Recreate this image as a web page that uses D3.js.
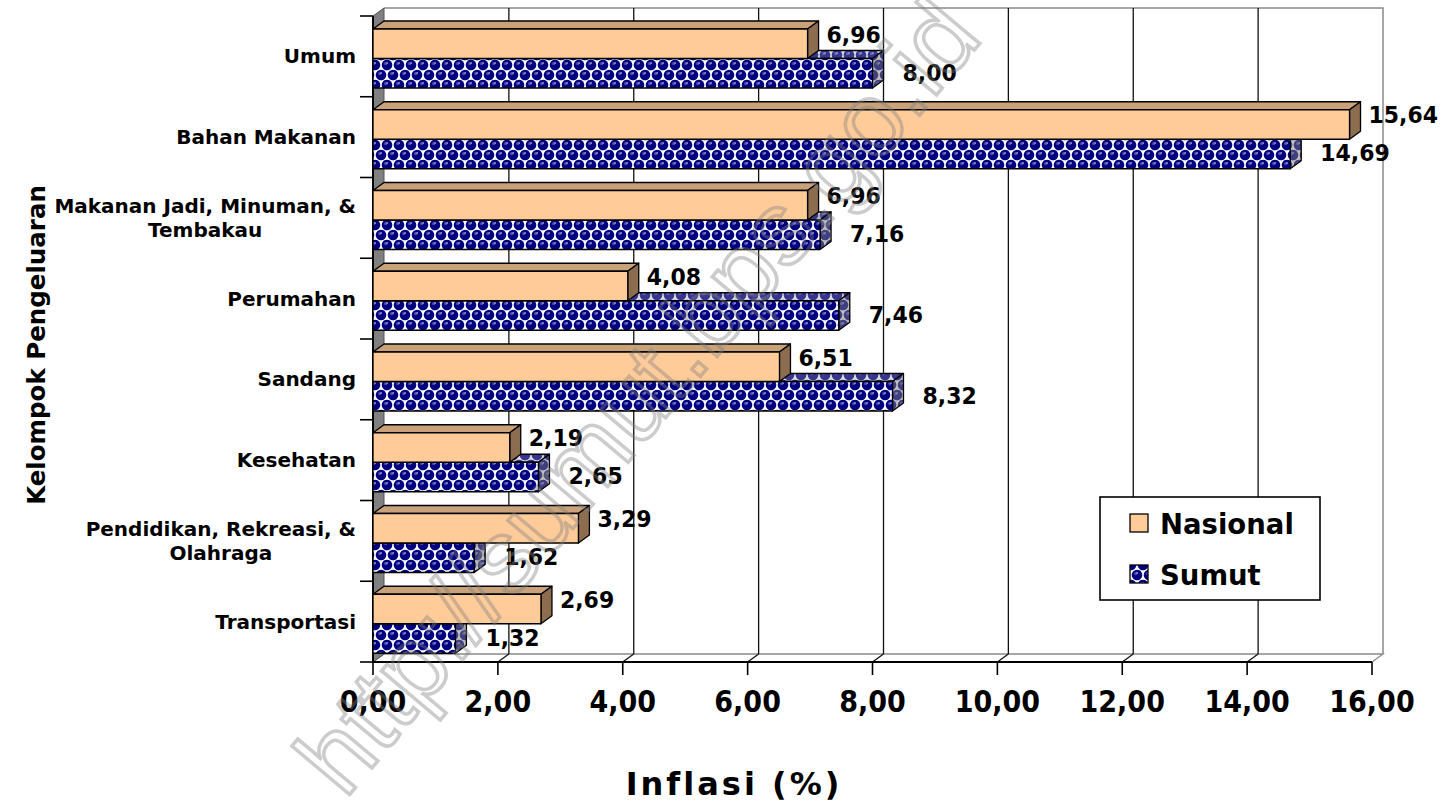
<!DOCTYPE html>
<html>
<head>
<meta charset="utf-8">
<script src="https://cdn.jsdelivr.net/npm/d3@7"></script>
<style>
  html, body { margin: 0; padding: 0; background: #fff; }
  svg { display: block; }
  text { font-family: "DejaVu Sans", Verdana, sans-serif; font-weight: bold; fill: #000; }
</style>
</head>
<body>
<svg id="chart" width="1444" height="808"></svg>
<script>
// ---- data ----
const categories = [
  "Umum",
  "Bahan Makanan",
  "Makanan Jadi, Minuman, & Tembakau",
  "Perumahan",
  "Sandang",
  "Kesehatan",
  "Pendidikan, Rekreasi, & Olahraga",
  "Transportasi"
];
const categoryLines = [
  ["Umum"],
  ["Bahan Makanan"],
  ["Makanan Jadi, Minuman, &", "Tembakau"],
  ["Perumahan"],
  ["Sandang"],
  ["Kesehatan"],
  ["Pendidikan, Rekreasi, &", "Olahraga"],
  ["Transportasi"]
];
const seriesNames = ["Nasional", "Sumut"];
const nasional = [6.96, 15.64, 6.96, 4.08, 6.51, 2.19, 3.29, 2.69];
const sumut    = [8.00, 14.69, 7.16, 7.46, 8.32, 2.65, 1.62, 1.32];
const xTicks   = [0, 2, 4, 6, 8, 10, 12, 14, 16];
const xTitle = "Inflasi (%)";
const yTitle = "Kelompok Pengeluaran";
const watermark = "http://sumut.bps.go.id";

// ---- layout ----
const svg = d3.select("#chart");
const locale = d3.formatLocale({ decimal: ",", thousands: ".", grouping: [3], currency: ["", ""] });
const fmt = locale.format(".2f");

const X0 = 373, X1 = 1372, YTOP = 16, YBOT = 662;
const DX = 11, DY = -8;            // depth offset of the 3D box

const x = d3.scaleLinear().domain([0, 16]).range([X0, X1]);
const y = d3.scaleBand().domain(categories).range([YTOP, YBOT]).padding(0);
const ySub = d3.scaleBand().domain(seriesNames).range([13, 72]).padding(0);

const colors = {
  Nasional: { front: "#FFCC99", top: "#C9A27A", side: "#8C6D4F" }
};

// ---- sphere pattern for the Sumut series ----
const defs = svg.append("defs");
const pat = defs.append("pattern")
  .attr("id", "spheres").attr("patternUnits", "userSpaceOnUse")
  .attr("width", 12).attr("height", 20);
pat.append("rect").attr("width", 12).attr("height", 20).attr("fill", "#ffffff");
const dots = [[3, 5], [9, 15], [15, 5], [-3, 15], [3, 25], [9, -5], [15, 25], [-3, -5]];
dots.forEach(([cx, cy]) => {
  pat.append("circle").attr("cx", cx).attr("cy", cy).attr("r", 5.3).attr("fill", "#000080");
  pat.append("circle").attr("cx", cx - 1.3).attr("cy", cy - 1.4).attr("r", 1.7).attr("fill", "#4b4bb0");
  pat.append("rect").attr("x", cx - 0.6).attr("y", cy - 2.6).attr("width", 1.4).attr("height", 1.2).attr("fill", "#d8d8f0");
});

const path = pts => "M" + pts.map(p => p.join(",")).join("L") + "Z";

// ---- walls ----
const g = svg.append("g");
// back wall
g.append("rect")
  .attr("x", X0 + DX).attr("y", YTOP + DY)
  .attr("width", X1 - X0).attr("height", YBOT - YTOP)
  .attr("fill", "#fff");
g.append("path")
  .attr("d", `M${X0 + DX},${YTOP + DY}L${X1 + DX},${YTOP + DY}L${X1 + DX},${YBOT + DY}`)
  .attr("fill", "none").attr("stroke", "#8a8a8a").attr("stroke-width", 1.5);
// floor (bottom wall)
g.append("path")
  .attr("d", path([[X0, YBOT], [X0 + DX, YBOT + DY], [X1 + DX, YBOT + DY], [X1, YBOT]]))
  .attr("fill", "#fff").attr("stroke", "#8a8a8a").attr("stroke-width", 1.3);
// side wall
g.append("path")
  .attr("d", path([[X0, YTOP], [X0 + DX, YTOP + DY], [X0 + DX, YBOT + DY], [X0, YBOT]]))
  .attr("fill", "#808080").attr("stroke", "#555").attr("stroke-width", 1);

// gridlines on the back wall and floor
const inner = xTicks.filter(t => t > 0 && t < 16);
g.selectAll(".grid").data(inner).join("line")
  .attr("x1", d => x(d) + DX).attr("x2", d => x(d) + DX)
  .attr("y1", YTOP + DY).attr("y2", YBOT + DY)
  .attr("stroke", "#111").attr("stroke-width", 1.3);
g.selectAll(".floorgrid").data(inner).join("line")
  .attr("x1", d => x(d)).attr("y1", YBOT)
  .attr("x2", d => x(d) + DX).attr("y2", YBOT + DY)
  .attr("stroke", "#111").attr("stroke-width", 1.3);

// axes lines and ticks
g.append("line").attr("x1", X0).attr("x2", X1).attr("y1", YBOT).attr("y2", YBOT)
  .attr("stroke", "#000").attr("stroke-width", 2);
g.selectAll(".xtick").data(xTicks).join("line")
  .attr("x1", d => x(d)).attr("x2", d => x(d))
  .attr("y1", YBOT).attr("y2", YBOT + 13)
  .attr("stroke", "#000").attr("stroke-width", 1.6);
g.append("line").attr("x1", X0).attr("x2", X0).attr("y1", YTOP).attr("y2", YBOT)
  .attr("stroke", "#000").attr("stroke-width", 2);
const bounds = categories.map(c => y(c)).concat([YBOT]);
g.selectAll(".ytick").data(bounds).join("line")
  .attr("x1", X0 - 13).attr("x2", X0)
  .attr("y1", d => d).attr("y2", d => d)
  .attr("stroke", "#000").attr("stroke-width", 1.6);

// ---- bars ----
function drawBar(parent, x0, x1, yT, yB, fills) {
  const bg = parent.append("g");
  const faces = [
    { d: path([[x0, yT], [x0 + DX, yT + DY], [x1 + DX, yT + DY], [x1, yT]]), f: fills.top, o: fills.topShade },
    { d: path([[x1, yT], [x1 + DX, yT + DY], [x1 + DX, yB + DY], [x1, yB]]), f: fills.side, o: fills.sideShade },
    { d: path([[x0, yT], [x1, yT], [x1, yB], [x0, yB]]), f: fills.front, o: null }
  ];
  faces.forEach(fc => {
    bg.append("path").attr("d", fc.d).attr("fill", fc.f);
    if (fc.o) bg.append("path").attr("d", fc.d).attr("fill", fc.o.c).attr("fill-opacity", fc.o.a);
    bg.append("path").attr("d", fc.d).attr("fill", "none")
      .attr("stroke", "#000").attr("stroke-width", 1.3).attr("stroke-linejoin", "round");
  });
}

const bars = svg.append("g");
categories.forEach((c, i) => {
  const b = y(c);
  // lower series first so the upper one overlaps its top face
  drawBar(bars, x(0), x(sumut[i]), b + ySub("Sumut"), b + ySub("Sumut") + ySub.bandwidth(), {
    front: "url(#spheres)", top: "url(#spheres)", side: "url(#spheres)",
    topShade: { c: "#9a9ab0", a: 0.35 }, sideShade: { c: "#808080", a: 0.5 }
  });
  drawBar(bars, x(0), x(nasional[i]), b + ySub("Nasional"), b + ySub("Nasional") + ySub.bandwidth(), colors.Nasional);
});

// ---- data labels ----
const labels = svg.append("g").style("font-size", "22px");
labels.selectAll(".ln").data(nasional).join("text")
  .attr("transform", (d, i) => `translate(${x(d) + DX + 8},${y(categories[i]) + 26.5}) scale(1,1.06)`)
  .text(d => fmt(d));
labels.selectAll(".ls").data(sumut).join("text")
  .attr("transform", (d, i) => `translate(${x(d) + DX + 19},${y(categories[i]) + 64.5}) scale(1,1.06)`)
  .text(d => fmt(d));

// ---- category labels ----
const catG = svg.append("g").style("font-size", "20px");
categories.forEach((c, i) => {
  const lines = categoryLines[i];
  const mid = y(c) + y.bandwidth() / 2;
  const lh = 24;
  const t = catG.append("text").attr("text-anchor", "middle");
  lines.forEach((ln, k) => {
    t.append("tspan").attr("x", 0)
      .attr("y", mid + 7 + (k - (lines.length - 1) / 2) * lh)
      .text(ln);
  });
  const w = d3.max(t.selectAll("tspan").nodes(), n => n.getComputedTextLength());
  t.selectAll("tspan").attr("x", 356 - w / 2);
});

// ---- tick labels ----
svg.append("g").style("font-size", "27px")
  .selectAll("text").data(xTicks).join("text")
  .attr("transform", d => `translate(${x(d)},712) scale(1,1.13)`)
  .attr("text-anchor", "middle")
  .text(d => fmt(d));

// ---- axis titles ----
svg.append("text")
  .attr("x", 734).attr("y", 795)
  .attr("text-anchor", "middle")
  .style("font-size", "32px").style("letter-spacing", "3px")
  .text(xTitle);
svg.append("text")
  .attr("transform", "translate(45,345) rotate(-90)")
  .attr("text-anchor", "middle")
  .style("font-size", "24.5px")
  .text(yTitle);

// ---- legend ----
const lg = svg.append("g");
lg.append("rect").attr("x", 1100).attr("y", 497).attr("width", 220).attr("height", 103)
  .attr("fill", "#fff").attr("stroke", "#000").attr("stroke-width", 1.6);
const legendFill = { Nasional: colors.Nasional.front, Sumut: "url(#spheres)" };
seriesNames.forEach((s, k) => {
  const yy = 514 + k * 51;
  lg.append("rect").attr("x", 1130).attr("y", yy).attr("width", 18).attr("height", 18)
    .attr("fill", legendFill[s]).attr("stroke", "#000").attr("stroke-width", 1.3);
  lg.append("text").attr("x", 1160).attr("y", yy + 20)
    .style("font-size", "27.5px").text(s);
});

// ---- watermark (outlined, translucent) ----
svg.append("text")
  .attr("transform", "translate(345,800) rotate(-50)")
  .style("font-family", "'Liberation Sans', Arial, sans-serif")
  .style("font-weight", "normal")
  .style("font-size", "104px")
  .style("fill", "none")
  .style("stroke", "#808080").style("stroke-opacity", 0.4).style("stroke-width", 3.5)
  .text(watermark);
</script>
</body>
</html>
